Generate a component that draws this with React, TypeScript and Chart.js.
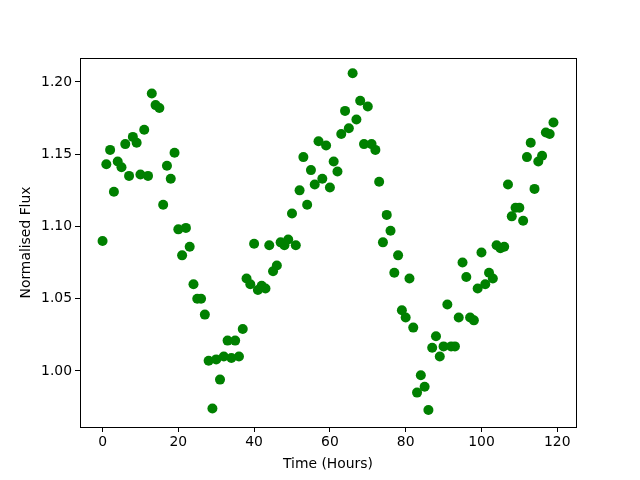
import React, { useEffect, useRef } from "react";
import { Chart, registerables } from "chart.js";

Chart.register(...registerables);

const hours: number[] = Array.from({ length: 120 }, (_, i) => i);
const flux: number[] = [
  1.090, 1.143, 1.153, 1.124, 1.145, 1.141, 1.157, 1.135, 1.162, 1.158,
  1.136, 1.167, 1.135, 1.192, 1.184, 1.182, 1.115, 1.142, 1.133, 1.151,
  1.098, 1.080, 1.099, 1.086, 1.060, 1.050, 1.050, 1.039, 1.007, 0.974,
  1.008, 0.994, 1.010, 1.021, 1.009, 1.021, 1.010, 1.029, 1.064, 1.060,
  1.088, 1.056, 1.059, 1.057, 1.087, 1.069, 1.073, 1.089, 1.087, 1.091,
  1.109, 1.087, 1.125, 1.148, 1.115, 1.139, 1.129, 1.159, 1.133, 1.156,
  1.127, 1.145, 1.138, 1.164, 1.180, 1.168, 1.206, 1.174, 1.187, 1.157,
  1.183, 1.157, 1.153, 1.131, 1.089, 1.108, 1.097, 1.068, 1.080, 1.042,
  1.037, 1.064, 1.030, 0.985, 0.997, 0.989, 0.973, 1.016, 1.024, 1.010,
  1.017, 1.046, 1.017, 1.017, 1.037, 1.075, 1.065, 1.037, 1.035, 1.057,
  1.082, 1.060, 1.068, 1.064, 1.087, 1.085, 1.086, 1.129, 1.107, 1.113,
  1.113, 1.104, 1.148, 1.158, 1.126, 1.145, 1.149, 1.165, 1.164, 1.172,
];
const xTicks: number[] = [0, 20, 40, 60, 80, 100, 120];
const yTicks: number[] = [1.0, 1.05, 1.1, 1.15, 1.2];

const FONT = "'DejaVu Sans', sans-serif";

const framePlugin = {
  id: "frame",
  afterDraw(chart: any) {
    const { ctx, chartArea } = chart;
    ctx.save();
    ctx.strokeStyle = "#000";
    ctx.lineWidth = 1;
    ctx.strokeRect(
      Math.round(chartArea.left) + 0.5,
      Math.round(chartArea.top) + 0.5,
      Math.round(chartArea.right - chartArea.left),
      Math.round(chartArea.bottom - chartArea.top)
    );
    ctx.restore();
  },
};

export default function App() {
  const ref = useRef<HTMLCanvasElement | null>(null);
  useEffect(() => {
    if (!ref.current) return;
    const chart = new Chart(ref.current, {
      type: "scatter",
      data: {
        datasets: [
          {
            data: hours.map((h, i) => ({ x: h, y: flux[i] })),
            backgroundColor: "#008000",
            borderColor: "#008000",
            pointRadius: 5,
            pointHoverRadius: 5,
            borderWidth: 0,
          },
        ],
      },
      options: {
        responsive: false,
        animation: false,
        events: [],
        layout: { padding: { left: 0, top: 58, right: 64, bottom: 0 } },
        plugins: { legend: { display: false }, tooltip: { enabled: false } },
        scales: {
          x: {
            type: "linear",
            min: -5.95,
            max: 124.95,
            afterFit: (s: any) => {
              s.height = 53;
            },
            afterBuildTicks: (s: any) => {
              s.ticks = xTicks.map((v) => ({ value: v }));
            },
            border: { display: false },
            grid: {
              drawOnChartArea: false,
              drawTicks: true,
              tickLength: 5,
              color: "#000",
            },
            ticks: {
              color: "#000",
              font: { family: FONT, size: 13.9 },
              padding: 2,
              maxRotation: 0,
              callback: (v: any) => String(v),
            },
            title: {
              display: true,
              text: "Time (Hours)",
              color: "#000",
              font: { family: FONT, size: 13.9 },
              padding: { top: 0, bottom: 7 },
            },
          },
          y: {
            type: "linear",
            min: 0.9612,
            max: 1.2166,
            afterFit: (s: any) => {
              s.width = 80;
            },
            afterBuildTicks: (s: any) => {
              s.ticks = yTicks.map((v) => ({ value: v }));
            },
            border: { display: false },
            grid: {
              drawOnChartArea: false,
              drawTicks: true,
              tickLength: 5,
              color: "#000",
            },
            ticks: {
              color: "#000",
              font: { family: FONT, size: 13.9 },
              padding: 3,
              callback: (v: any) => Number(v).toFixed(2),
            },
            title: {
              display: true,
              text: "Normalised Flux",
              color: "#000",
              font: { family: FONT, size: 13.9 },
              padding: { top: 18, bottom: 0 },
            },
          },
        },
      },
      plugins: [framePlugin],
    });
    return () => chart.destroy();
  }, []);
  return (
    <div style={{ position: "fixed", left: 0, top: 0, width: 640, height: 480, background: "#fff" }}>
      <canvas ref={ref} width={640} height={480} style={{ width: 640, height: 480 }} />
    </div>
  );
}
